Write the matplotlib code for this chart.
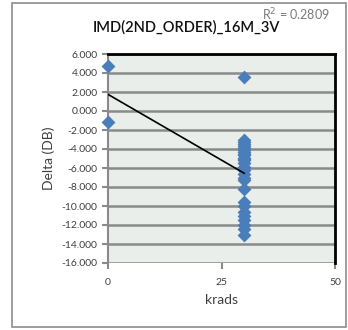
import numpy as np
import matplotlib.pyplot as plt
from matplotlib.patches import Rectangle

plt.rcParams['font.family'] = ['Lato', 'DejaVu Sans']

# data
krads = [0, 0] + [30] * 28
delta = [4.7, -1.2,
         3.6, -3.1, -3.3, -3.5, -3.7, -3.9, -4.1, -4.3, -4.5, -4.6, -4.9, -5.0,
         -5.2, -5.5, -5.9, -6.2, -6.6, -7.0, -7.3, -8.2, -9.6, -10.0, -10.6,
         -11.1, -11.5, -12.0, -12.4, -13.1]
yticks = [6, 4, 2, 0, -2, -4, -6, -8, -10, -12, -14, -16]
xticks = [0, 25, 50]

fig = plt.figure(figsize=(3.48, 3.30), dpi=100)
fig.patches.append(Rectangle((12 / 348, 3 / 330), 334 / 348, 324 / 330,
                             transform=fig.transFigure, fill=False,
                             edgecolor="#8c8c8c", linewidth=1.2))

ax = fig.add_axes([108 / 348, 1 - 263 / 330, 227 / 348, 209 / 330])
ax.set_facecolor("#e9eeeb")

ax.set_xlim(0, 50)
ax.set_ylim(-16, 6)
ax.set_yticks(yticks)
ax.set_yticklabels([f"{v:.3f}" for v in yticks])
ax.set_xticks(xticks)

ax.grid(True, axis="y", color="#8a8a8a", linewidth=1.8)
ax.set_axisbelow(True)

ax.scatter(krads, delta, marker="D", s=50, color="#4a7ebb", zorder=3,
           linewidths=0, clip_on=False)

# linear trendline
k, b = np.polyfit(krads, delta, 1)
xs = np.array([min(krads), max(krads)])
ax.plot(xs, k * xs + b, color="black", linewidth=1.2, zorder=4)

for s in ["top", "right"]:
    ax.spines[s].set_color("black")
    ax.spines[s].set_linewidth(2)
ax.spines["left"].set_color("#8a8a8a")
ax.spines["left"].set_linewidth(1.5)
ax.spines["bottom"].set_visible(False)

ax.tick_params(axis="y", colors="#8a8a8a", labelcolor="#404040", labelsize=7.5,
               length=4, width=1.5)
ax.tick_params(axis="x", colors="#8a8a8a", labelcolor="#404040", labelsize=7.5,
               length=4, width=1.5, pad=7)

ax.set_xlabel("krads", fontsize=10, color="#404040", labelpad=5)
ax.set_ylabel("Delta (DB)", fontsize=10, color="#404040", labelpad=5)

fig.text(186 / 348, 1 - 27 / 330, "IMD(2ND_ORDER)_16M_3V", ha="center", va="center",
         fontsize=10.5, fontweight="semibold", color="#111111")
fig.text(296 / 348, 1 - 15 / 330, "R$^2$ = 0.2809", ha="center", va="center",
         fontsize=9, color="#7a7a7a")

fig.savefig("out.png", dpi=100)
